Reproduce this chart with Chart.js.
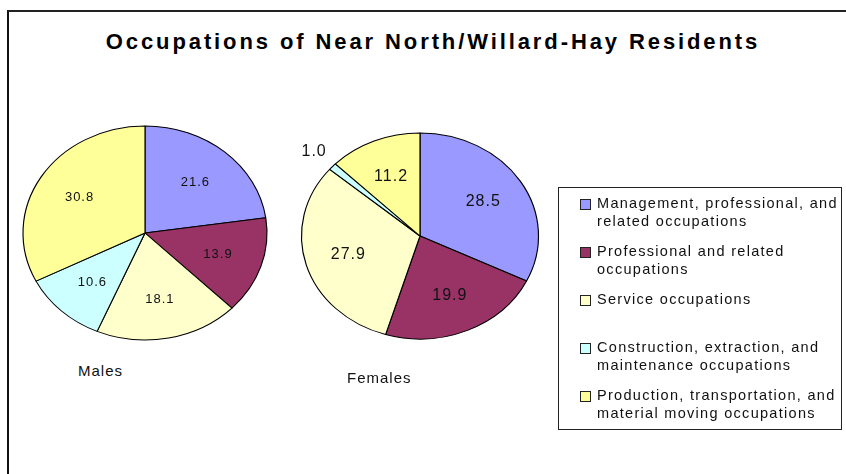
<!DOCTYPE html>
<html>
<head>
<meta charset="utf-8">
<script src="https://cdn.jsdelivr.net/npm/chart.js@4/dist/chart.umd.min.js"></script>
<style>
	body { margin: 0; background: #fff; width: 846px; height: 474px; overflow: hidden; position: relative; font-family: 'Liberation Sans', Arial, sans-serif; }
	#frame { position: absolute; left: 7px; top: 10px; width: 900px; height: 500px; border-left: 2px solid #111; border-top: 2px solid #222; }
	#title { position: absolute; left: 0; width: 866px; top: 29px; text-align: center; font-size: 22px; font-weight: bold; letter-spacing: 2.9px; color: #000; }
	.pie { position: absolute; }
	.caption { position: absolute; font-size: 15px; letter-spacing: 1px; color: #111; }
	#legend { position: absolute; left: 558px; top: 187px; width: 284px; height: 243px; border: 1px solid #222; box-sizing: border-box; }
	.item { position: absolute; left: 21px; height: 48px; }
	.swatch { position: absolute; left: 0; top: 5px; width: 9px; height: 9px; border: 1px solid #222; }
	.text { position: absolute; left: 17px; top: 0; width: 260px; font-size: 14.5px; line-height: 18px; letter-spacing: 1.3px; color: #111; white-space: nowrap; }
</style>
</head>
<body>
<div id="frame"></div>
<div id="title">Occupations of Near North/Willard-Hay Residents</div>
<canvas id="males" class="pie" width="280" height="240" style="left:5px;top:113px"></canvas>
<canvas id="females" class="pie" width="280" height="240" style="left:280px;top:116px"></canvas>
<div class="caption" style="left:78px;top:362px">Males</div>
<div class="caption" style="left:347px;top:369px">Females</div>
<div id="legend"></div>

<script>
//categories, in the order they go round each pie
const categories = [
	['Management, professional, and', 'related occupations'],
	['Professional and related', 'occupations'],
	['Service occupations'],
	['Construction, extraction, and', 'maintenance occupations'],
	['Production, transportation, and', 'material moving occupations']
];
const sliceColors = ['#9999FF', '#993366', '#FFFFCC', '#CCFFFF', '#FFFF99'];

//percent values
const malesValues = [21.6, 13.9, 18.1, 10.6, 30.8];
const femalesValues = [28.5, 19.9, 27.9, 1.0, 11.2];

//stretches the pie sideways so it comes out as an ellipse, then writes the value labels unstretched
function ellipsePlugin(stretch, fontSize) {
	return {
		id: 'ellipse',
		beforeDatasetsDraw(chart) {
			const a = chart.chartArea;
			const cx = (a.left + a.right) / 2;
			const cy = (a.top + a.bottom) / 2;
			const ctx = chart.ctx;
			ctx.save();
			ctx.translate(cx, cy);
			ctx.scale(stretch, 1);
			ctx.translate(-cx, -cy);
		},
		afterDatasetsDraw(chart) {
			chart.ctx.restore();
		},
		afterDraw(chart) {
			const ctx = chart.ctx;
			const meta = chart.getDatasetMeta(0);
			const values = chart.data.datasets[0].data;
			const total = values.reduce((s, v) => s + v, 0);
			ctx.save();
			ctx.font = fontSize + 'px "Liberation Sans", Arial, sans-serif';
			if ('letterSpacing' in ctx) ctx.letterSpacing = '1px';
			ctx.fillStyle = '#111';
			ctx.textAlign = 'center';
			ctx.textBaseline = 'middle';
			meta.data.forEach((arc, i) => {
				const mid = (arc.startAngle + arc.endAngle) / 2;
				//tiny slices get their label outside the pie
				const frac = values[i] / total < 0.03 ? 1.21 : 0.63;
				const r = arc.outerRadius * frac;
				const x = arc.x + Math.cos(mid) * r * stretch;
				const y = arc.y + Math.sin(mid) * r;
				ctx.fillText(values[i].toFixed(1), x, y);
			});
			ctx.restore();
		}
	};
}

//builds one pie chart on the given canvas
function generatePie(element, values, radius, stretch, fontSize) {
	const ctx = document.getElementById(element).getContext('2d');
	return new Chart(ctx, {
		type: 'pie',
		data: {
			labels: categories.map(c => c.join(' ')),
			datasets: [{
				data: values,
				backgroundColor: sliceColors,
				borderColor: '#000',
				borderWidth: 1,
				radius: radius
			}]
		},
		options: {
			responsive: false,
			animation: false,
			events: [],
			layout: { padding: 0 },
			plugins: {
				legend: { display: false },
				tooltip: { enabled: false }
			}
		},
		plugins: [ellipsePlugin(stretch, fontSize)]
	});
}

//legend box on the right
function buildLegend() {
	const legend = document.getElementById('legend');
	categories.forEach((lines, i) => {
		const item = document.createElement('div');
		item.className = 'item';
		item.style.top = (6 + i * 48) + 'px';
		const sw = document.createElement('div');
		sw.className = 'swatch';
		sw.style.background = sliceColors[i];
		const tx = document.createElement('div');
		tx.className = 'text';
		tx.innerHTML = lines.join('<br>');
		item.appendChild(sw);
		item.appendChild(tx);
		legend.appendChild(item);
	});
}

generatePie('males', malesValues, 107, 122 / 107, 13);
generatePie('females', femalesValues, 103, 118.5 / 103, 16);
buildLegend();
</script>
</body>
</html>
